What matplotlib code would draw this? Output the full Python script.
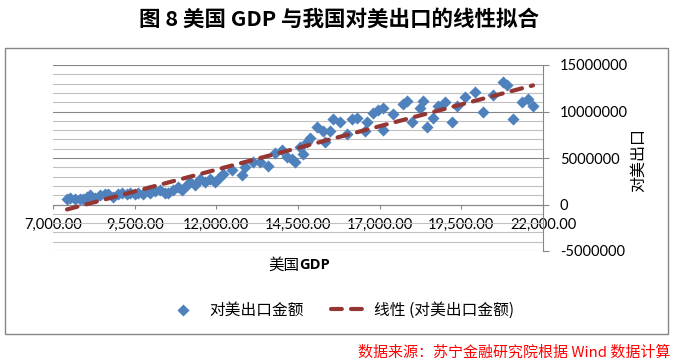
import numpy as np
import matplotlib
matplotlib.use('Agg')
import matplotlib.pyplot as plt
from matplotlib.ticker import MultipleLocator, FixedLocator, FuncFormatter
from matplotlib.patches import Rectangle

plt.rcParams['font.family'] = ['Noto Sans CJK SC', 'DejaVu Sans']

# US GDP (x) vs China's exports to the US (y)
us_gdp = [7429, 7520, 7673, 7827, 7918, 8041, 8133, 8286, 8439, 8592,
          8684, 8837, 8990, 9112, 9265, 9357, 9510, 9602, 9755, 9908,
          9969, 10122, 10276, 10429, 10520, 10673, 10827, 10949, 11102, 11194,
          11347, 11500, 11653, 11806, 11959, 12082, 12204, 12480, 12786, 12878,
          13122, 13337, 13582, 13796, 14010, 14163, 14316, 14408, 14561, 14653,
          14776, 14867, 15082, 15265, 15327, 15480, 15571, 15786, 16000, 16153,
          16306, 16551, 16612, 16796, 16949, 17102, 17102, 17408, 17714, 17837,
          17990, 18235, 18327, 18449, 18633, 18786, 19000, 19214, 19367, 19612,
          19918, 20163, 20469, 20776, 20898, 21082, 21357, 21541, 21694]
export_us = [0.54, 0.75, 0.54, 0.54, 0.54, 0.86, 0.97, 0.75, 0.97, 1.08,
             1.08, 0.86, 1.08, 1.29, 1.08, 1.29, 1.08, 1.29, 1.08, 1.40,
             1.29, 1.40, 1.61, 1.29, 1.29, 1.61, 1.83, 1.61, 2.15, 2.37,
             2.15, 2.69, 2.47, 2.69, 2.47, 2.90, 3.23, 3.76, 3.12, 3.98,
             4.52, 4.62, 4.09, 5.59, 5.91, 5.16, 4.84, 4.62, 6.13, 5.38,
             6.67, 7.20, 8.28, 7.85, 6.67, 7.85, 9.14, 8.92, 7.53, 9.14,
             9.35, 7.85, 8.92, 9.89, 10.20, 10.43, 7.96, 9.68, 10.86, 11.08,
             8.92, 10.43, 11.08, 8.28, 9.35, 10.54, 10.97, 8.82, 10.54, 11.60,
             12.15, 10.00, 11.80, 13.20, 12.90, 9.14, 10.97, 11.30, 10.54]

x_ticks = [7000, 9500, 12000, 14500, 17000, 19500, 22000]
title = '图 8 美国 GDP 与我国对美出口的线性拟合'
series_name = '对美出口金额'
trend_name = '线性 (对美出口金额)'
source = '数据来源：苏宁金融研究院根据 Wind 数据计算'

x = np.array(us_gdp)
y = np.array(export_us) * 1e6

W, H = 677, 362
fx = lambda px: px / W
fy = lambda py: 1 - py / H

fig = plt.figure(figsize=(W / 100, H / 100), dpi=100)

# outer chart frame
fig.patches.append(Rectangle((fx(5), fy(334)), fx(663), (334 - 48) / H,
                             transform=fig.transFigure, fill=False,
                             edgecolor='#868686', linewidth=1.0))

ax = fig.add_axes([fx(53), fy(251), 490 / W, 186 / H])
ax.set_xlim(7000, 22000)
ax.set_ylim(-5e6, 15e6)

ax.yaxis.set_major_locator(MultipleLocator(5e6))
ax.yaxis.set_minor_locator(MultipleLocator(1e6))
ax.xaxis.set_major_locator(FixedLocator(x_ticks))
ax.grid(which='major', axis='y', color='#878787', linewidth=0.8, zorder=0)
ax.grid(which='minor', axis='y', color='#c0c0c0', linewidth=0.8, zorder=0)
ax.set_axisbelow(True)

for s in ['top', 'left']:
    ax.spines[s].set_visible(False)
ax.spines['right'].set_color('#868686')
ax.spines['bottom'].set_color('#868686')
ax.spines['bottom'].set_position(('data', 0))

ax.yaxis.tick_right()
ax.tick_params(axis='y', which='major', length=4, color='#868686', pad=8,
               labelsize=10.5, labelfontfamily='Lato')
ax.tick_params(axis='y', which='minor', length=0)
ax.tick_params(axis='x', length=3, color='#868686', pad=7,
               labelsize=10.5, labelfontfamily='Lato')
ax.xaxis.set_major_formatter(FuncFormatter(lambda v, p: f'{v:,.2f}'))
ax.yaxis.set_major_formatter(FuncFormatter(lambda v, p: f'{v:.0f}'))

sc = ax.scatter(x, y, marker='D', s=38, color='#4f81bd', linewidths=0,
                zorder=3, label=series_name)

# linear trend line, as Excel does it
k, b = np.polyfit(x, y, 1)
xs = np.array([x.min(), x.max()])
ln, = ax.plot(xs, k * xs + b, color='#943634', linewidth=3,
              dashes=(2.6, 2.2), dash_capstyle='round', zorder=4,
              label=trend_name)

fig.text(fx(299), fy(265), '美国', ha='right', va='center', fontsize=11.2)
fig.text(fx(299), fy(265), 'GDP', ha='left', va='center', fontsize=10.5,
         fontweight='bold', family=['Open Sans', 'DejaVu Sans'])
fig.text(fx(638), fy(160), '对美出口', rotation=90, ha='center', va='center',
         fontsize=11.5)

fig.text(fx(339), fy(19), title, ha='center', va='center', fontsize=15.5,
         fontweight='bold')

leg = fig.legend(handles=[sc, ln], loc='center', bbox_to_anchor=(fx(340), fy(310)),
                 ncol=2, frameon=False, fontsize=11.3, handlelength=2.2,
                 handletextpad=0.6, columnspacing=1.7, scatterpoints=1)

fig.text(fx(670), fy(353), source, ha='right', va='center', fontsize=10.8,
         color='#ff0000', style='italic')

fig.savefig('out.png', dpi=100)
